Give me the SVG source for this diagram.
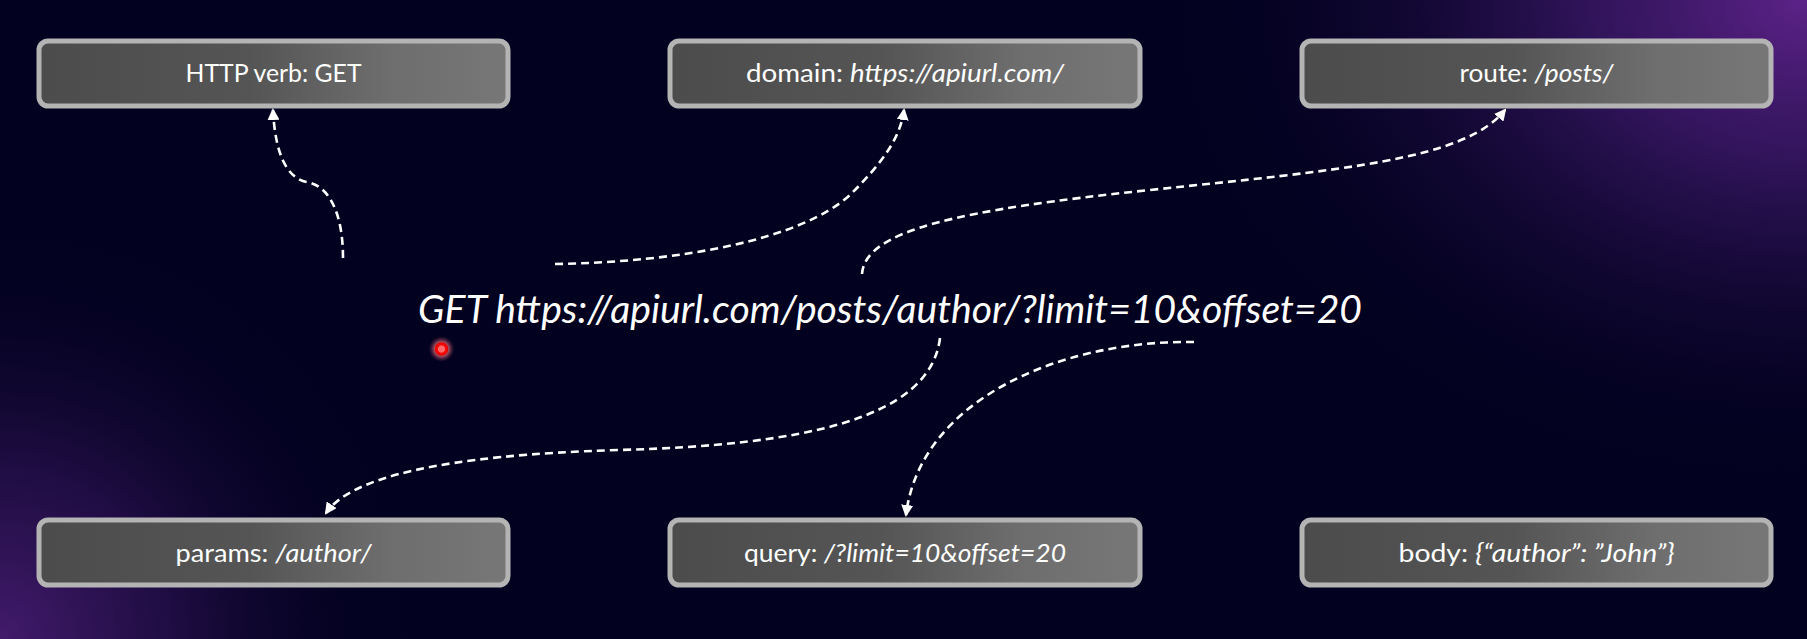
<svg xmlns="http://www.w3.org/2000/svg" width="1807" height="639" viewBox="0 0 1807 639">
<defs>
<style>
.box{fill:url(#boxg);stroke:#b4b4b4;stroke-width:5}
.lbl{font-family:Lato,"Liberation Sans",sans-serif;font-size:25px;fill:#ffffff;text-anchor:middle}
.it{font-style:italic}
.con{fill:none;stroke:#ffffff;stroke-width:2.6;stroke-dasharray:8 5;marker-end:url(#arr)}
</style>
<linearGradient id="boxg" x1="0" y1="0" x2="1" y2="0">
<stop offset="0" stop-color="#4c4c4c"/>
<stop offset="0.45" stop-color="#555555"/>
<stop offset="0.75" stop-color="#6e6e6e"/>
<stop offset="1" stop-color="#777777"/>
</linearGradient>
<radialGradient id="tr" cx="1807" cy="0" r="650" gradientUnits="userSpaceOnUse" gradientTransform="translate(1807 0) scale(1 0.75) translate(-1807 0)">
<stop offset="0" stop-color="#5c2288"/>
<stop offset="0.35" stop-color="#3a1866" stop-opacity="0.8"/>
<stop offset="1" stop-color="#02011f" stop-opacity="0"/>
</radialGradient>
<radialGradient id="bl" cx="0" cy="639" r="420" gradientUnits="userSpaceOnUse">
<stop offset="0" stop-color="#431b6c"/>
<stop offset="0.4" stop-color="#2a1150" stop-opacity="0.75"/>
<stop offset="1" stop-color="#02011f" stop-opacity="0"/>
</radialGradient>
<radialGradient id="dot" cx="0.5" cy="0.5" r="0.5">
<stop offset="0" stop-color="#ff6a6a"/>
<stop offset="0.25" stop-color="#ff6a6a"/>
<stop offset="0.3" stop-color="#ff0a0a"/>
<stop offset="0.48" stop-color="#e80000"/>
<stop offset="0.55" stop-color="#c86070" stop-opacity="0.8"/>
<stop offset="1" stop-color="#6a2a4a" stop-opacity="0"/>
</radialGradient>
<marker id="arr" viewBox="0 0 12 12" refX="10" refY="6" markerWidth="12" markerHeight="12" markerUnits="userSpaceOnUse" orient="auto">
<path d="M0,0 L12,6 L0,12 Z" fill="#ffffff"/>
</marker>
</defs>
<rect x="0" y="0" width="1807" height="639" fill="#02011f"/>
<rect x="0" y="0" width="1807" height="639" fill="url(#tr)"/>
<rect x="0" y="0" width="1807" height="639" fill="url(#bl)"/>

<g id="connectors">
<path class="con" d="M343,258 C343,215 330,186 307,182 C285,178 275,150 273,110"/>
<path class="con" d="M555,264 C680,262 800,240 850,195 C880,165 900,140 904,110"/>
<path class="con" d="M862,274 C865,230 960,210 1150,190 S1465,160 1505,110"/>
<path class="con" d="M940,338 C930,420 800,445 620,450 S350,478 326,513"/>
<path class="con" d="M1194,342 C1060,340 920,400 906,515"/>
</g>

<g id="node-verb">
<rect class="box" x="39" y="41" width="469" height="65" rx="9"/>
<text class="lbl" x="273.5" y="82" textLength="176" lengthAdjust="spacingAndGlyphs">HTTP verb: GET</text>
</g>
<g id="node-domain">
<rect class="box" x="670" y="41" width="470" height="65" rx="9"/>
<text class="lbl" x="905" y="82" textLength="318" lengthAdjust="spacingAndGlyphs">domain: <tspan class="it">https://apiurl.com/</tspan></text>
</g>
<g id="node-route">
<rect class="box" x="1302" y="41" width="469" height="65" rx="9"/>
<text class="lbl" x="1536.5" y="82" textLength="154" lengthAdjust="spacingAndGlyphs">route: <tspan class="it">/posts/</tspan></text>
</g>
<g id="node-params">
<rect class="box" x="39" y="520" width="469" height="65" rx="9"/>
<text class="lbl" x="273.5" y="562" textLength="196" lengthAdjust="spacingAndGlyphs">params: <tspan class="it">/author/</tspan></text>
</g>
<g id="node-query">
<rect class="box" x="670" y="520" width="470" height="65" rx="9"/>
<text class="lbl" x="905" y="562" textLength="322" lengthAdjust="spacingAndGlyphs">query: <tspan class="it">/?limit=10&amp;offset=20</tspan></text>
</g>
<g id="node-body">
<rect class="box" x="1302" y="520" width="469" height="65" rx="9"/>
<text class="lbl" x="1536.5" y="562" textLength="276" lengthAdjust="spacingAndGlyphs">body: <tspan class="it">{“author”: ”John”}</tspan></text>
</g>

<g id="request">
<text x="418" y="323" font-family="Lato,'Liberation Sans',sans-serif" font-style="italic" font-size="39" fill="#ffffff" textLength="944" lengthAdjust="spacingAndGlyphs">GET https://apiurl.com/posts/author/?limit=10&amp;offset=20</text>
</g>
<g id="pointer">
<circle cx="441.5" cy="349" r="13" fill="url(#dot)"/>
</g>
</svg>
